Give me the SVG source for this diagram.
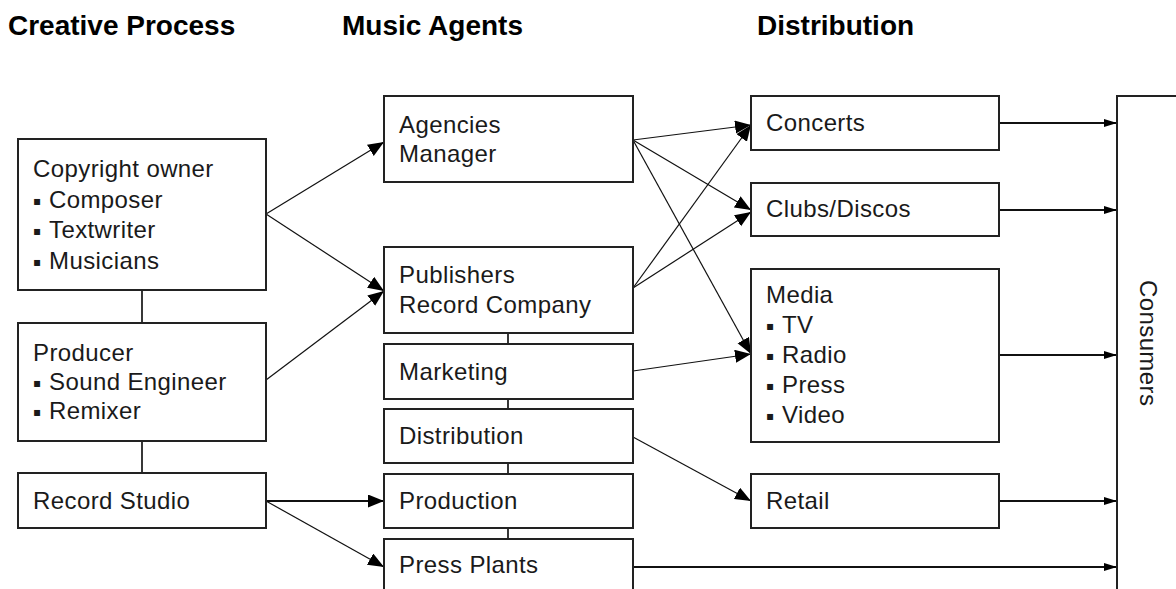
<svg xmlns="http://www.w3.org/2000/svg" width="1176" height="589" viewBox="0 0 1176 589">
<style>
.box{fill:#fff;stroke:#222;stroke-width:2}
.t{font-family:"Liberation Sans","DejaVu Sans",Arial,sans-serif;font-size:24px;fill:#1a1a1a;letter-spacing:0.4px}
.h{font-family:"Liberation Sans",Arial,sans-serif;font-size:28px;font-weight:bold;fill:#000}
.b{font-family:"DejaVu Sans",sans-serif;font-size:12px;letter-spacing:0}
.c{fill:none;stroke:#111;stroke-width:1.2}
.c2{fill:none;stroke:#111;stroke-width:1.8}
.ln{fill:none;stroke:#222;stroke-width:1.8}
</style>
<defs>
<marker id="big" markerUnits="userSpaceOnUse" markerWidth="17" markerHeight="14" refX="16" refY="6.5" orient="auto">
<path d="M0,0 L16,6.5 L0,13 z" fill="#000"/>
</marker>
<marker id="sm" markerUnits="userSpaceOnUse" markerWidth="14" markerHeight="10" refX="13" refY="4" orient="auto">
<path d="M0,0 L13,4 L0,8 z" fill="#000"/>
</marker>
</defs>
<rect width="1176" height="589" fill="#fff"/>
<g id="headers">
<text class="h" x="8" y="35">Creative Process</text>
<text class="h" x="342" y="35">Music Agents</text>
<text class="h" x="757" y="35">Distribution</text>
</g>
<g id="connectors">
<line class="ln" x1="142" y1="290" x2="142" y2="323"/>
<line class="ln" x1="142" y1="441" x2="142" y2="473"/>
<line class="ln" x1="508" y1="333" x2="508" y2="344"/>
<line class="ln" x1="508" y1="399" x2="508" y2="409"/>
<line class="ln" x1="508" y1="463" x2="508" y2="474"/>
<line class="ln" x1="508" y1="528" x2="508" y2="539"/>
<line class="c" x1="266" y1="214" x2="384" y2="142" marker-end="url(#big)"/>
<line class="c" x1="266" y1="214" x2="384" y2="291" marker-end="url(#big)"/>
<line class="c" x1="266" y1="380" x2="384" y2="291" marker-end="url(#big)"/>
<line class="c2" x1="266" y1="501" x2="384" y2="501" marker-end="url(#big)"/>
<line class="c" x1="266" y1="501" x2="384" y2="567" marker-end="url(#big)"/>
<line class="c" x1="633" y1="140" x2="751" y2="125" marker-end="url(#big)"/>
<line class="c" x1="633" y1="140" x2="751" y2="210" marker-end="url(#big)"/>
<line class="c" x1="633" y1="140" x2="751" y2="354" marker-end="url(#big)"/>
<line class="c" x1="633" y1="288" x2="751" y2="125" marker-end="url(#big)"/>
<line class="c" x1="633" y1="288" x2="751" y2="212" marker-end="url(#big)"/>
<line class="c" x1="633" y1="371" x2="751" y2="354" marker-end="url(#big)"/>
<line class="c" x1="633" y1="437" x2="751" y2="501" marker-end="url(#big)"/>
<line class="c2" x1="999" y1="123" x2="1117" y2="123" marker-end="url(#sm)"/>
<line class="c2" x1="999" y1="210" x2="1117" y2="210" marker-end="url(#sm)"/>
<line class="c2" x1="999" y1="355" x2="1117" y2="355" marker-end="url(#sm)"/>
<line class="c2" x1="999" y1="501" x2="1117" y2="501" marker-end="url(#sm)"/>
<line class="c2" x1="633" y1="567" x2="1117" y2="567" marker-end="url(#sm)"/>
</g>
<g id="copyright">
<rect class="box" x="18" y="139" width="248" height="151"/>
<text class="t" x="33" y="177">Copyright owner</text>
<text class="t" y="208"><tspan class="b" x="33" dy="-3">▪</tspan><tspan x="49" dy="3">Composer</tspan></text>
<text class="t" y="238"><tspan class="b" x="33" dy="-3">▪</tspan><tspan x="49" dy="3">Textwriter</tspan></text>
<text class="t" y="269"><tspan class="b" x="33" dy="-3">▪</tspan><tspan x="49" dy="3">Musicians</tspan></text>
</g>
<g id="producer">
<rect class="box" x="18" y="323" width="248" height="118"/>
<text class="t" x="33" y="361">Producer</text>
<text class="t" y="390"><tspan class="b" x="33" dy="-3">▪</tspan><tspan x="49" dy="3">Sound Engineer</tspan></text>
<text class="t" y="419"><tspan class="b" x="33" dy="-3">▪</tspan><tspan x="49" dy="3">Remixer</tspan></text>
</g>
<g id="studio">
<rect class="box" x="18" y="473" width="248" height="55"/>
<text class="t" x="33" y="509">Record Studio</text>
</g>
<g id="agencies">
<rect class="box" x="384" y="96" width="249" height="86"/>
<text class="t" x="399" y="133">Agencies</text>
<text class="t" x="399" y="162">Manager</text>
</g>
<g id="publishers">
<rect class="box" x="384" y="247" width="249" height="86"/>
<text class="t" x="399" y="283">Publishers</text>
<text class="t" x="399" y="313">Record Company</text>
</g>
<g id="marketing">
<rect class="box" x="384" y="344" width="249" height="55"/>
<text class="t" x="399" y="380">Marketing</text>
</g>
<g id="distribution">
<rect class="box" x="384" y="409" width="249" height="54"/>
<text class="t" x="399" y="444">Distribution</text>
</g>
<g id="production">
<rect class="box" x="384" y="474" width="249" height="54"/>
<text class="t" x="399" y="509">Production</text>
</g>
<g id="pressplants">
<rect class="box" x="384" y="539" width="249" height="60"/>
<text class="t" x="399" y="573">Press Plants</text>
</g>
<g id="concerts">
<rect class="box" x="751" y="96" width="248" height="54"/>
<text class="t" x="766" y="131">Concerts</text>
</g>
<g id="clubs">
<rect class="box" x="751" y="183" width="248" height="53"/>
<text class="t" x="766" y="217">Clubs/Discos</text>
</g>
<g id="media">
<rect class="box" x="751" y="269" width="248" height="173"/>
<text class="t" x="766" y="303">Media</text>
<text class="t" y="333"><tspan class="b" x="766" dy="-3">▪</tspan><tspan x="782" dy="3">TV</tspan></text>
<text class="t" y="363"><tspan class="b" x="766" dy="-3">▪</tspan><tspan x="782" dy="3">Radio</tspan></text>
<text class="t" y="393"><tspan class="b" x="766" dy="-3">▪</tspan><tspan x="782" dy="3">Press</tspan></text>
<text class="t" y="423"><tspan class="b" x="766" dy="-3">▪</tspan><tspan x="782" dy="3">Video</tspan></text>
</g>
<g id="retail">
<rect class="box" x="751" y="474" width="248" height="54"/>
<text class="t" x="766" y="509">Retail</text>
</g>
<g id="consumers">
<rect class="box" x="1117" y="96" width="80" height="520"/>
<text class="t" transform="translate(1140,280) rotate(90)">Consumers</text>
</g>
</svg>
